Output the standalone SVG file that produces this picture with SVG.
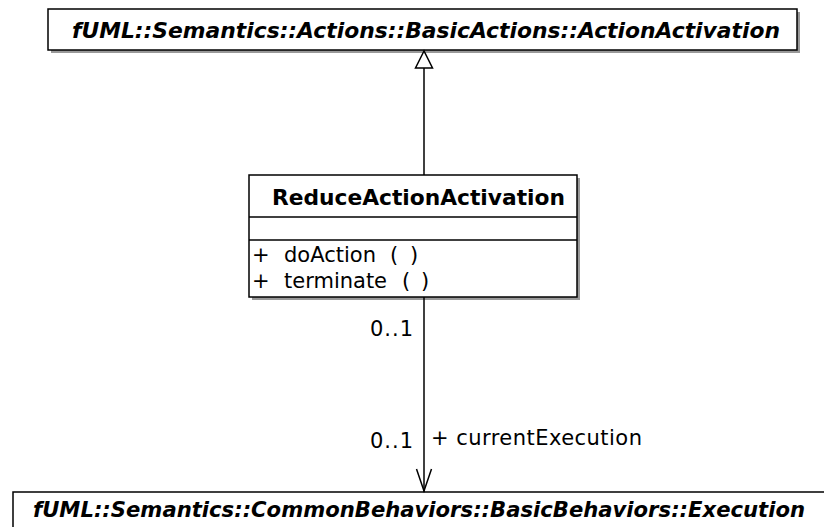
<svg xmlns="http://www.w3.org/2000/svg" width="824" height="527" viewBox="0 0 824 527">
<style>
.box{fill:#fff;stroke:#000;stroke-width:1.5}
.shadow{fill:#999;stroke:none}
.t{font-family:"DejaVu Sans",Verdana,sans-serif;font-size:21px;fill:#000}
.it{font-style:italic;font-weight:bold}
.b{font-weight:bold}
.line{stroke:#000;stroke-width:1.5;fill:none}
</style>
<g id="ActionActivation">
<rect class="shadow" x="51" y="12" width="749" height="41"/>
<rect class="box" x="48" y="9" width="749" height="41"/>
<text class="t it" x="72" y="38" textLength="708" lengthAdjust="spacingAndGlyphs">fUML::Semantics::Actions::BasicActions::ActionActivation</text>
</g>
<g id="ReduceActionActivation">
<rect class="shadow" x="252" y="178" width="328" height="122"/>
<rect class="box" x="249" y="175" width="328" height="122"/>
<line class="line" x1="249" y1="217" x2="577" y2="217"/>
<line class="line" x1="249" y1="240" x2="577" y2="240"/>
<text class="t b" x="272" y="205" textLength="293" lengthAdjust="spacingAndGlyphs">ReduceActionActivation</text>
<text class="t" y="262"><tspan x="252">+</tspan><tspan x="284">doAction</tspan><tspan x="390">(</tspan><tspan x="410">)</tspan></text>
<text class="t" y="288"><tspan x="252">+</tspan><tspan x="284">terminate</tspan><tspan x="402">(</tspan><tspan x="421">)</tspan></text>
</g>
<g id="Execution">
<rect class="shadow" x="16" y="495" width="820" height="50"/>
<rect class="box" x="13" y="492" width="820" height="50"/>
<text class="t it" x="33" y="517" textLength="772" lengthAdjust="spacingAndGlyphs">fUML::Semantics::CommonBehaviors::BasicBehaviors::Execution</text>
</g>
<g id="connectors">
<line class="line" x1="424" y1="68" x2="424" y2="175"/>
<polygon points="424,51 415.5,68 432.5,68" fill="#fff" stroke="#000" stroke-width="1.5"/>
<line class="line" x1="424" y1="297" x2="424" y2="492"/>
<polyline class="line" points="416.5,469 424,491 431.5,469"/>
<text class="t" x="370" y="336" textLength="43" lengthAdjust="spacing">0..1</text>
<text class="t" x="370" y="448" textLength="43" lengthAdjust="spacing">0..1</text>
<text class="t" x="431" y="445" textLength="211" lengthAdjust="spacing">+ currentExecution</text>
</g>
</svg>
